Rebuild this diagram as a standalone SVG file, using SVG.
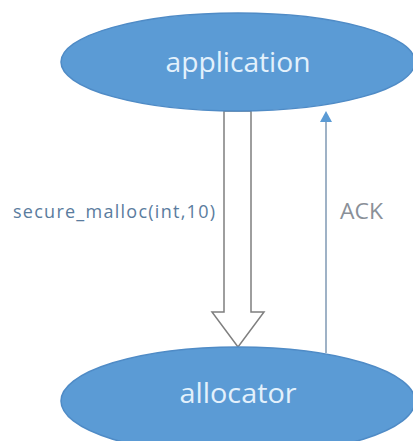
<svg xmlns="http://www.w3.org/2000/svg" width="413" height="441" viewBox="0 0 413 441">
<style>
.node{fill:#5b9bd5;stroke:#4f8bc6;stroke-width:1.5}
.ntext{font-family:"Open Sans","Liberation Sans",sans-serif;font-size:27px;fill:#e3f1fc;text-anchor:middle}
.lbl{font-family:"Open Sans","Liberation Sans",sans-serif}
.block{fill:#ffffff;stroke:#7f7f7f;stroke-width:1.5;stroke-linejoin:miter}
.ack{stroke:#7f99b3;stroke-width:1.5;fill:none}
</style>
<rect width="413" height="441" fill="#ffffff"/>
<g id="connectors">
<path class="block" d="M224,111 L251,111 L251,312 L264,312 L238,347 L212,312 L224,312 Z"/>
<line class="ack" x1="326" y1="353" x2="326" y2="121"/>
<path d="M320,122 L326,111 L332,122 Z" fill="#5b9bd5"/>
<text class="lbl" x="13" y="218" font-size="18" fill="#5a7c9e" textLength="202" lengthAdjust="spacing">secure_malloc(int,10)</text>
<text class="lbl" x="340" y="219" font-size="21" fill="#8a9098" textLength="43" lengthAdjust="spacingAndGlyphs">ACK</text>
</g>
<g id="application">
<ellipse class="node" cx="238" cy="62" rx="177" ry="49"/>
<text class="ntext" x="238" y="72" textLength="145" lengthAdjust="spacingAndGlyphs">application</text>
</g>
<g id="allocator">
<ellipse class="node" cx="238" cy="401" rx="177" ry="54"/>
<text class="ntext" x="238" y="403" textLength="117" lengthAdjust="spacingAndGlyphs">allocator</text>
</g>
</svg>
